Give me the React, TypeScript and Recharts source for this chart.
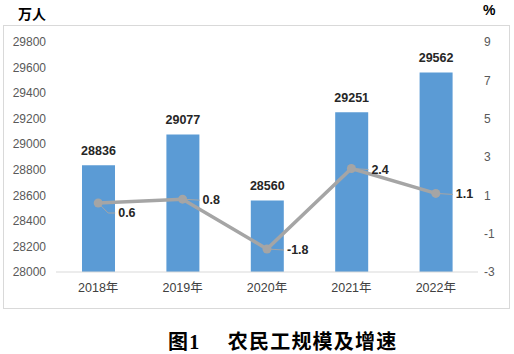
import React from 'react';
import { ComposedChart, Bar, Line, XAxis, YAxis, LabelList } from 'recharts';

const years = ['2018年', '2019年', '2020年', '2021年', '2022年'];
const workers = [28836, 29077, 28560, 29251, 29562];
const growth = [0.6, 0.8, -1.8, 2.4, 1.1];
const leftTicks = [28000, 28200, 28400, 28600, 28800, 29000, 29200, 29400, 29600, 29800];
const rightTicks = [-3, -1, 1, 3, 5, 7, 9];

const data = years.map((year, i) => ({ year, workers: workers[i], growth: growth[i] }));

const FONT = "'Liberation Sans', 'Noto Sans CJK SC', sans-serif";
const BAR = '#5b9bd5';
const LINE = '#a5a5a5';

// leader line + label to the right of each growth point
const GrowthLabel = (props: any) => {
  const { x, y, value, index } = props;
  if (x == null || y == null) return null;
  const below = index === 0;
  const ty = below ? y + 10 : y + 1;
  const pts = below
    ? `${x},${y} ${x + 10},${ty} ${x + 17},${ty}`
    : `${x},${y} ${x + 17},${ty}`;
  return (
    <g>
      <polyline points={pts} stroke={LINE} strokeWidth={1} fill="none" />
      <text
        x={x + 20}
        y={ty}
        dominantBaseline="central"
        fontSize={12.5}
        fontFamily={FONT}
        fontWeight={600}
        fill="#262626"
      >
        {value}
      </text>
    </g>
  );
};

export default function App() {
  const tickStyle = { fontSize: 12, fontFamily: FONT, fill: '#595959' };
  return (
    <div style={{ position: 'absolute', left: 0, top: 0, width: 514, height: 354, background: '#fff' }}>
      <div
        style={{
          position: 'absolute',
          left: 3,
          top: 25,
          width: 505,
          height: 282,
          border: '1px solid #d9d9d9',
        }}
      />
      <div style={{ position: 'absolute', left: 18, top: 3, fontSize: 14, fontWeight: 700, fontFamily: FONT, color: '#000' }}>
        万人
      </div>
      <div style={{ position: 'absolute', left: 483, top: 2, fontSize: 14, fontWeight: 700, fontFamily: FONT, color: '#000' }}>
        %
      </div>
      <div style={{ position: 'absolute', left: 0, top: 0 }}>
        <ComposedChart width={514} height={310} data={data} margin={{ top: 42, right: 0, bottom: 8, left: 0 }}>
          <XAxis
            dataKey="year"
            height={30}
            axisLine={{ stroke: '#d9d9d9' }}
            tickLine={false}
            tickMargin={5}
            tick={{ ...tickStyle, fontSize: 12.5, fill: '#404040' }}
          />
          <YAxis
            yAxisId="left"
            width={56}
            domain={[28000, 29800]}
            ticks={leftTicks}
            axisLine={false}
            tickLine={false}
            tickMargin={4}
            tick={tickStyle}
            interval={0}
          />
          <YAxis
            yAxisId="right"
            orientation="right"
            width={36}
            domain={[-3, 9]}
            ticks={rightTicks}
            axisLine={false}
            tickLine={false}
            tickSize={0}
            tickMargin={6}
            tick={{ ...tickStyle, textAnchor: 'start' }}
            interval={0}
          />
          <Bar yAxisId="left" dataKey="workers" fill={BAR} barSize={33} isAnimationActive={false}>
            <LabelList
              dataKey="workers"
              position="top"
              offset={10}
              style={{ fontSize: 12.5, fontFamily: FONT, fontWeight: 600, fill: '#262626' }}
            />
          </Bar>
          <Line
            yAxisId="right"
            dataKey="growth"
            stroke={LINE}
            strokeWidth={3.5}
            dot={{ r: 4.5, fill: LINE, stroke: LINE, strokeWidth: 0 }}
            activeDot={false}
            isAnimationActive={false}
          >
            <LabelList dataKey="growth" content={<GrowthLabel />} />
          </Line>
        </ComposedChart>
      </div>
      <div
        style={{
          position: 'absolute',
          left: 168,
          top: 326,
          fontSize: 20,
          fontWeight: 700,
          fontFamily: "'Liberation Serif', 'Noto Sans CJK SC', serif",
          color: '#000',
          whiteSpace: 'pre',
          letterSpacing: 1.2,
        }}
      >
        {'图1\u3000 农民工规模及增速'}
      </div>
    </div>
  );
}
